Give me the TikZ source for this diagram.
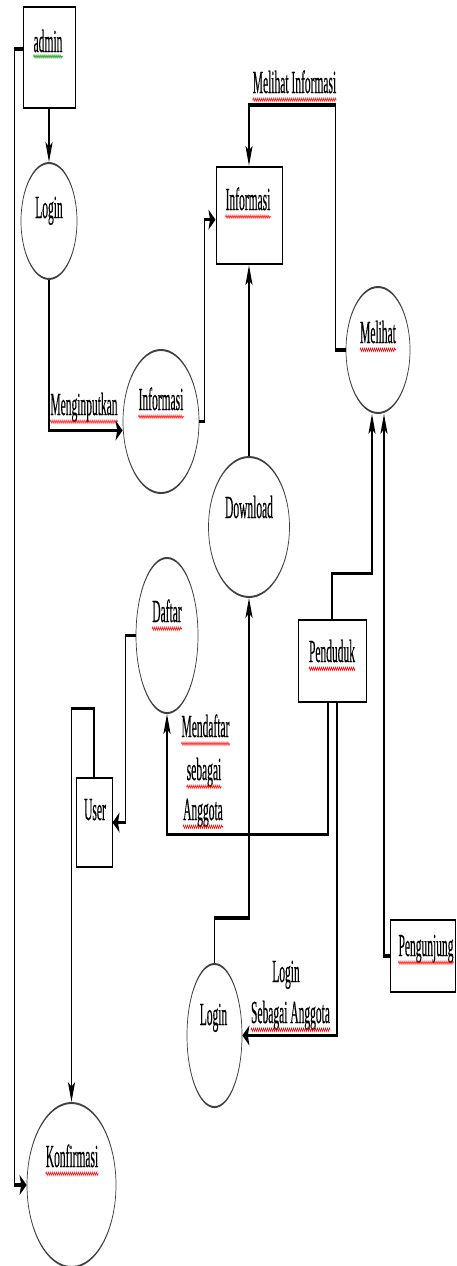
\documentclass[tikz,border=0pt]{standalone}
\usepackage{fontspec}
\setmainfont{Liberation Serif}
\newfontfamily\dfdfamily{Liberation Serif}[FakeBold=0.7]
\usetikzlibrary{arrows.meta,shapes.geometric,decorations.pathmorphing}
\newcommand{\dfdfont}{\dfdfamily\fontsize{11.5}{14.8}\selectfont}
\begin{document}
\begin{tikzpicture}[x=1pt,y=-1pt,
    proc/.style={ellipse, draw=black!75, line width=0.7pt, inner sep=0pt},
    store/.style={rectangle, draw, line width=0.95pt, inner sep=0pt},
    lbl/.style={inner sep=0pt, anchor=base, font=\dfdfont},
    flow/.style={line width=1.2pt, -{Stealth[length=7pt,width=7pt,inset=1.5pt]}},
    wavy/.style={draw=red, line width=0.4pt, decorate,
        decoration={snake, amplitude=0.6pt, segment length=2pt}}]

    \useasboundingbox (0,0) rectangle (456,1266);

    % the page is stretched 2.8 times in height
    \begin{scope}[transform canvas={yscale=2.8}, y=-0.35714pt]

    % Define the entities
    \node[store, minimum width=52pt, minimum height=36.1pt] (admin) at (49,57.5) {};
    \node[store, minimum width=66pt, minimum height=34.6pt] (infoD) at (249,215.5) {};
    \node[store, minimum width=68pt, minimum height=29.3pt] (penduduk) at (332,661) {};
    \node[store, minimum width=36pt, minimum height=31.8pt] (user) at (94,822.5) {};
    \node[store, minimum width=65pt, minimum height=25.7pt] (pengunjung) at (422.5,956) {};

    % Define the processes
    \node[proc, minimum width=56pt, minimum height=41.4pt] (loginA) at (49,221) {};
    \node[proc, minimum width=76pt, minimum height=51.1pt] (infoP) at (161,421.5) {};
    \node[proc, minimum width=64pt, minimum height=45pt] (melihat) at (378,350) {};
    \node[proc, minimum width=81pt, minimum height=50pt] (download) at (249,527) {};
    \node[proc, minimum width=62pt, minimum height=55.4pt] (daftar) at (167,635.5) {};
    \node[proc, minimum width=55pt, minimum height=51.1pt] (loginB) at (214.5,1035.5) {};
    \node[proc, minimum width=89pt, minimum height=58.6pt] (konfirm) at (71.5,1185) {};

    % Add the texts
    \node[lbl] (adminT) at (48,52) {admin};
    \node[lbl] (loginAT) at (49,218) {Login};
    \node[lbl] (inputT) at (84,415) {Menginputkan};
    \node[lbl] (infoPT) at (161,410) {Informasi};
    \node[lbl] (infoDT) at (248,210) {Informasi};
    \node[lbl] (lihatT) at (294.5,93) {Melihat Informasi};
    \node[lbl] (melihatT) at (378,343) {Melihat};
    \node[lbl] (downT) at (249,518) {Download};
    \node[lbl] (pendT) at (332,662) {Penduduk};
    \node[lbl] (daftarT) at (167,622) {Daftar};
    \node[lbl] (mendA) at (205.5,737) {Mendaftar};
    \node[lbl] (mendB) at (204,780) {sebagai};
    \node[lbl] (mendC) at (203,820) {Anggota};
    \node[lbl] (userT) at (95,820) {User};
    \node[lbl] (pengT) at (426,956) {Pengunjung};
    \node[lbl] (loginBT) at (213.5,1025) {Login};
    \node[lbl] (logA) at (286,982) {Login};
    \node[lbl] (logB) at (290.5,1023) {Sebagai Anggota};
    \node[lbl] (konfT) at (72,1167) {Konfirmasi};

    % Spelling marks under the words
    \foreach \t in {inputT,infoPT,infoDT,lihatT,melihatT,pendT,daftarT,mendA,mendB,mendC,pengT,logB,konfT}
        \draw[wavy] ([yshift=-2.4pt]\t.base west) -- ([yshift=-2.4pt]\t.base east);
    \draw[wavy, draw=green!55!black] ([yshift=-1.6pt]adminT.base west) -- ([yshift=-1.6pt]adminT.base east);

    % Draw the data flows
    \draw[flow] (admin) -- (loginA);
    \draw[flow] (loginA.south) |- ([yshift=-3.2pt]infoP.west);
    \draw[flow] (infoP.east) -- ++(5,0) |- ([yshift=-1.5pt]infoD.west);
    \draw[flow] (melihat.west) -- ++(-10,0) -- ++(0,-245) -| (infoD.north);
    \draw[flow] (download.north) -- (infoD.south);
    \draw[flow] (penduduk.north) -- ++(0,-45) -| ([xshift=-6pt]melihat.south);
    \draw[flow] (pengunjung.west) -| ([xshift=6pt]melihat.south);
    \draw[flow] ([xshift=-4pt]penduduk.south) -- ++(0,131) -| (daftar.south);
    \draw[flow] ([xshift=5pt]penduduk.south) |- (loginB.east);
    \draw[flow] (loginB.north) -- ++(0,-45) -| (download.south);
    \draw[flow] (daftar.west) -- ++(-10,0) |- (user.east);
    \draw[flow] (user.north) -- ++(0,-68) -| (konfirm.north);
    \draw[flow] ([yshift=3pt]admin.west) -- ++(-8,0) |- (konfirm.west);

    \end{scope}

\end{tikzpicture}
\end{document}
